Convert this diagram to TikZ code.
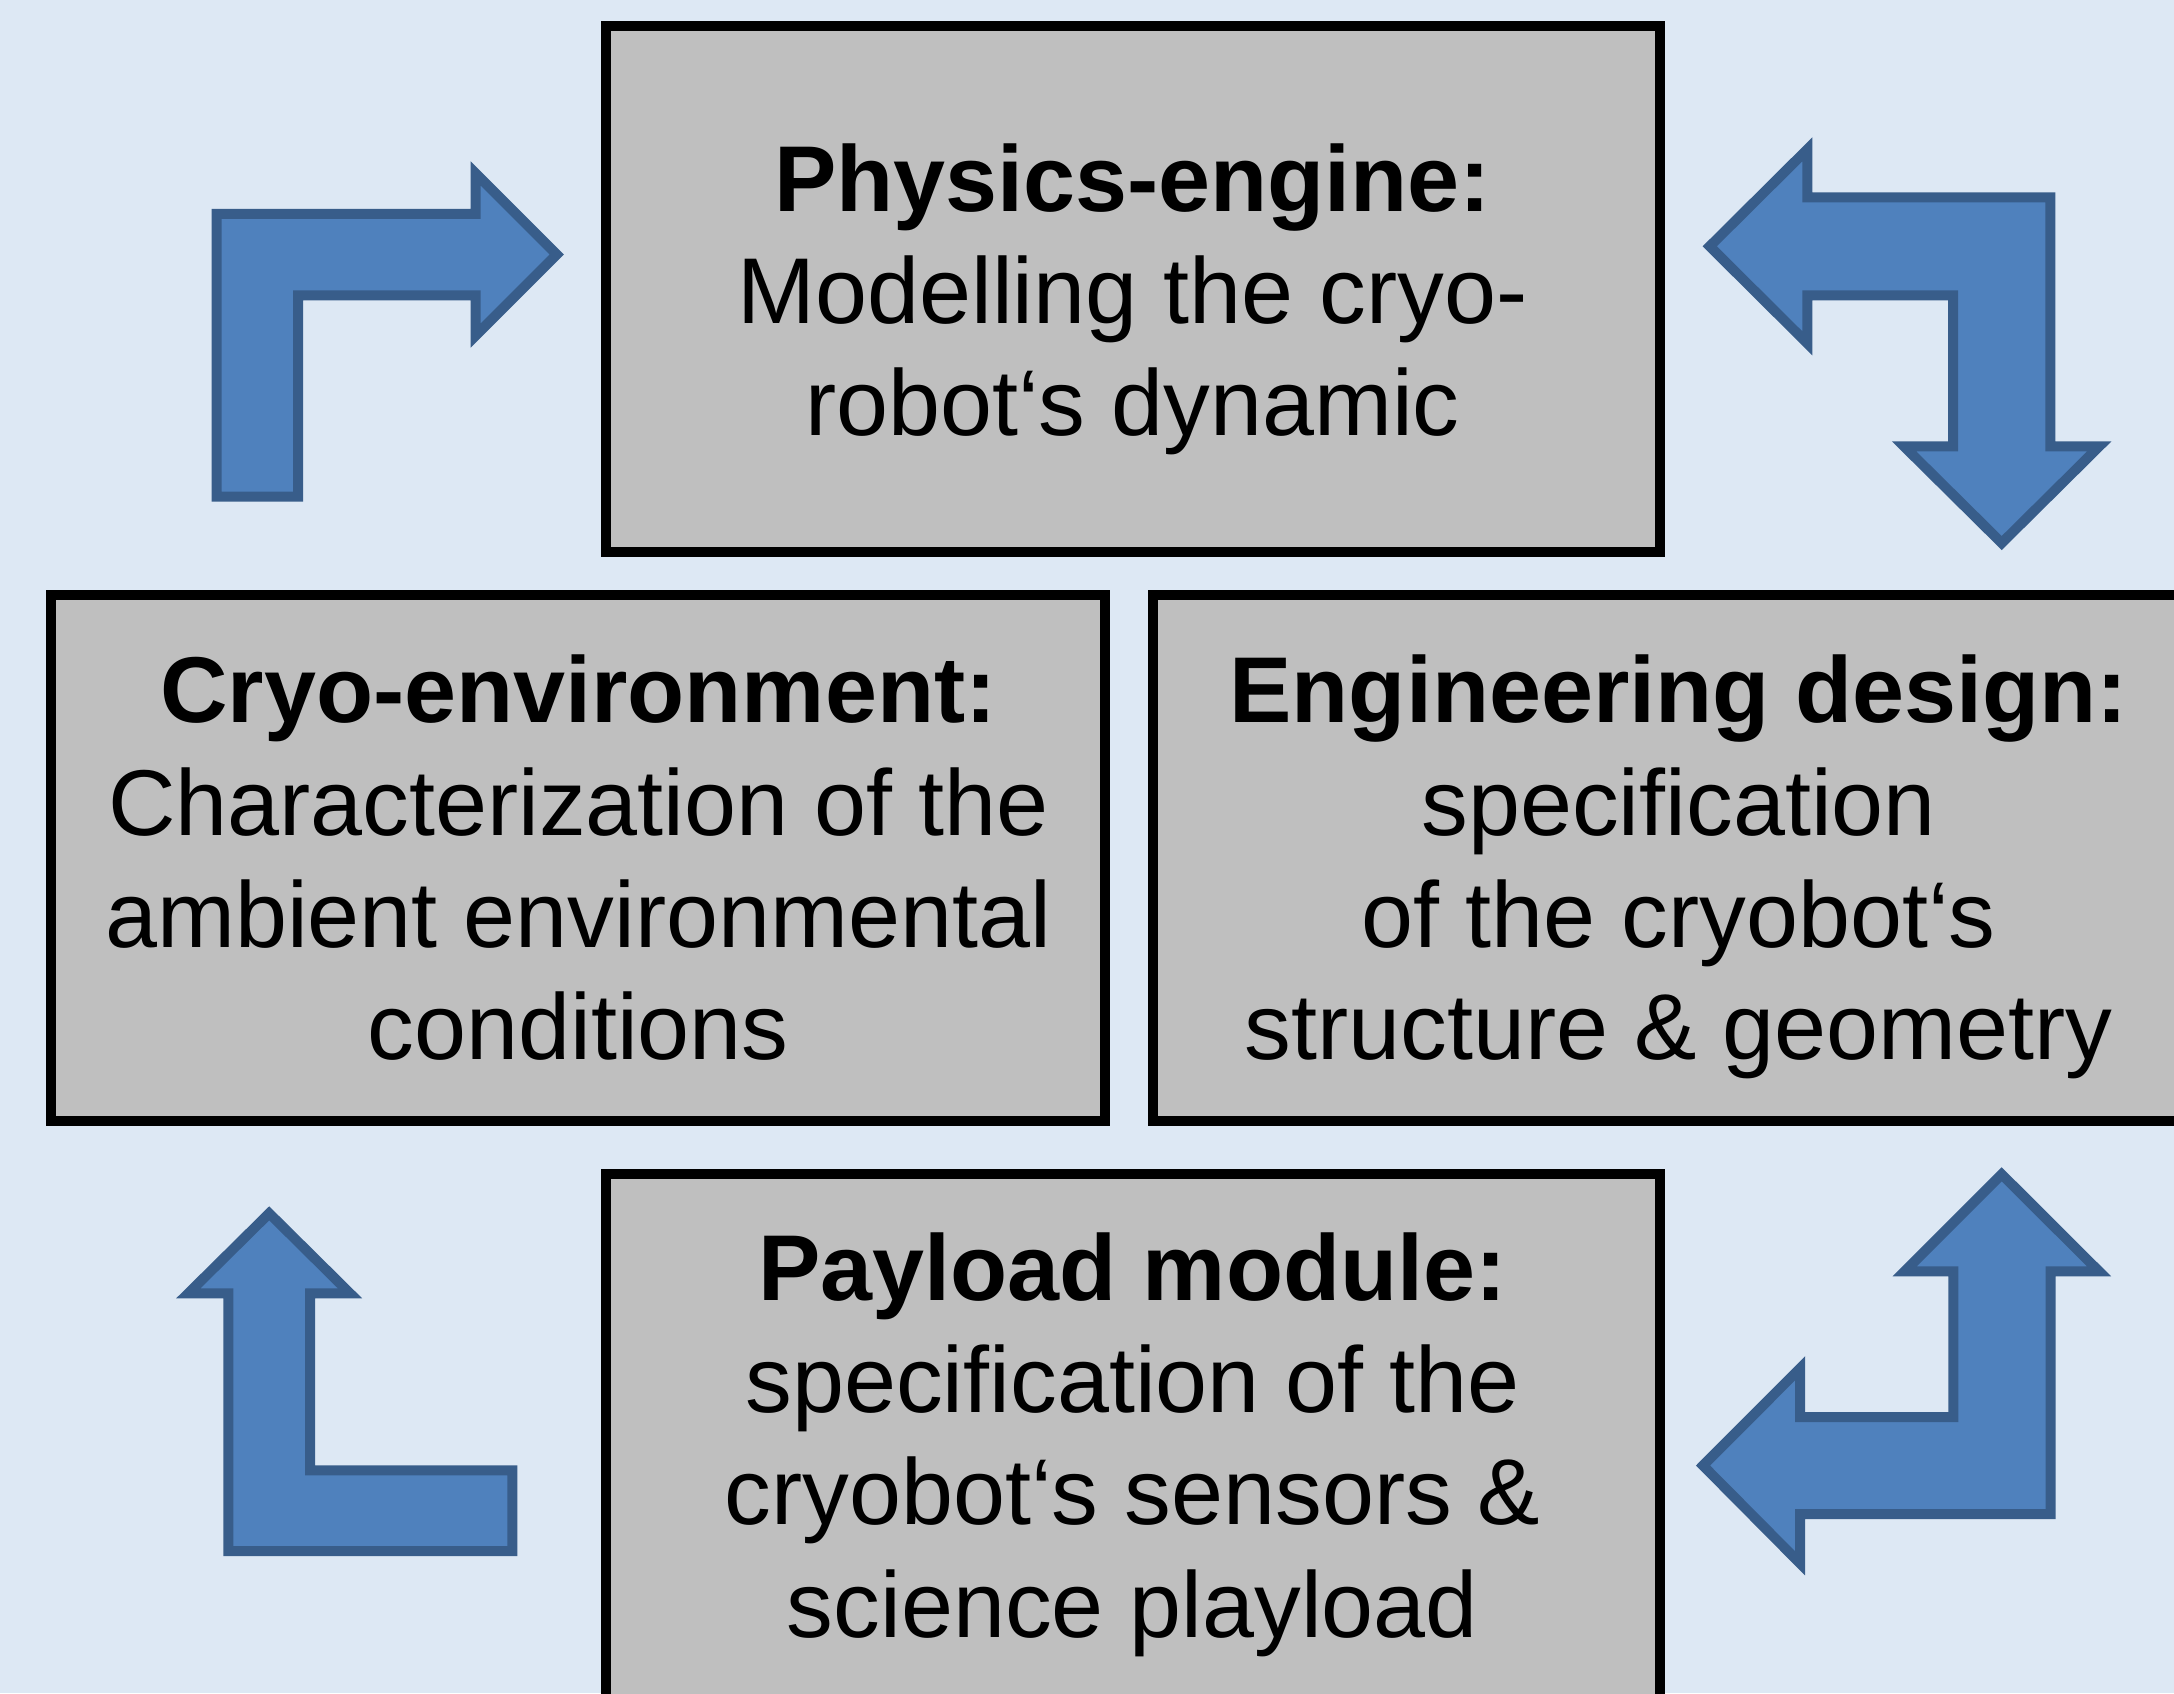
\documentclass[tikz,border=0pt]{standalone}
\usepackage{fontspec}
\setmainfont{Liberation Sans}
\usetikzlibrary{calc}

\definecolor{bgblue}{RGB}{221,232,244}
\definecolor{panelgray}{RGB}{191,191,191}
\definecolor{arrowfill}{RGB}{79,129,189}
\definecolor{arrowline}{RGB}{56,93,138}

\begin{document}
\begin{tikzpicture}[
  panel/.style={rectangle, draw=black, line width=0.10cm, fill=panelgray,
    inner sep=0pt, outer sep=0pt, minimum width=10.54cm, minimum height=5.26cm},
  paneltext/.style={align=center, inner sep=0pt, anchor=base,
    font=\fontsize{26.6pt}{31.9pt}\selectfont},
  blockarrow/.style={fill=arrowfill, draw=arrowline, line width=0.10cm,
    line join=miter}]

  % page and background
  \useasboundingbox (0,0) rectangle (21.74,-16.93);
  \fill[bgblue] (0,0) rectangle (21.74,-16.93);
  \clip (0,0) rectangle (21.74,-16.93);

  % the four panels
  \node[panel] (physics) at (11.325,-2.887) {};
  \node[panel] (cryoenv) at (5.783,-8.583) {};
  \node[panel] (engdesign) at (16.797,-8.583) {};
  \node[panel] (payload) at (11.325,-14.37) {};

  % panel texts, placed on the baseline of their last line
  \node[paneltext] (physicstxt) at ($(physics.center)+(0,-1.47)$)
    {\textbf{Physics-engine:}\\Modelling the cryo-\\robot‘s dynamic};
  \node[paneltext] (cryoenvtxt) at ($(cryoenv.center)+(0,-2.01)$)
    {\textbf{Cryo-environment:}\\Characterization of the\\ambient environmental\\conditions};
  \node[paneltext] (engdesigntxt) at ($(engdesign.center)+(-0.01,-2.01)$)
    {\textbf{Engineering design:}\\specification\\of the cryobot‘s\\structure \& geometry};
  \node[paneltext] (payloadtxt) at ($(payload.center)+(0,-2.0)$)
    {\textbf{Payload module:}\\specification of the\\cryobot‘s sensors \&\\science playload};

  % bent block arrows running round the cycle
  \draw[blockarrow] (2.165,-4.967) -- (2.165,-2.1375) -- (4.757,-2.1375)
    -- (4.757,-1.735) -- (5.567,-2.545) -- (4.757,-3.355) -- (4.757,-2.9525)
    -- (2.98,-2.9525) -- (2.98,-4.967) -- cycle;

  \draw[blockarrow] (17.097,-2.463) -- (18.073,-1.493) -- (18.073,-1.973)
    -- (20.503,-1.973) -- (20.503,-4.463) -- (20.993,-4.463) -- (20.017,-5.43)
    -- (19.04,-4.463) -- (19.53,-4.463) -- (19.53,-2.953) -- (18.073,-2.953)
    -- (18.073,-3.433) -- cycle;

  \draw[blockarrow] (2.692,-12.133) -- (3.50,-12.933) -- (3.10,-12.933)
    -- (3.10,-14.703) -- (5.123,-14.703) -- (5.123,-15.51) -- (2.283,-15.51)
    -- (2.283,-12.933) -- (1.883,-12.933) -- cycle;

  \draw[blockarrow] (20.017,-11.743) -- (20.99,-12.713) -- (20.507,-12.713)
    -- (20.507,-15.14) -- (18.0,-15.14) -- (18.0,-15.633) -- (17.03,-14.655)
    -- (18.0,-13.683) -- (18.0,-14.17) -- (19.533,-14.17) -- (19.533,-12.713)
    -- (19.047,-12.713) -- cycle;
\end{tikzpicture}
\end{document}
